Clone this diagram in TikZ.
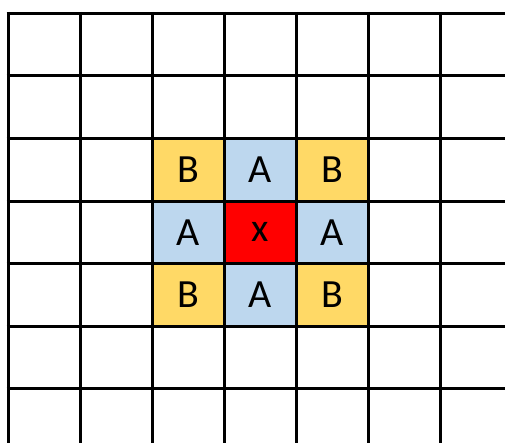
\documentclass[tikz,border=0pt]{standalone}
\usepackage{fontspec}
\setmainfont{Carlito}
\usetikzlibrary{positioning}
\definecolor{cellB}{HTML}{FFD966}
\definecolor{cellA}{HTML}{BDD7EE}
\definecolor{cellX}{HTML}{FF0000}
\newcommand{\cellfont}{\fontsize{40pt}{44pt}\selectfont}

\begin{document}
\begin{tikzpicture}[
    x=1pt, y=-1pt,
    node distance=0pt and 0pt,
    cell/.style={rectangle, draw=none, inner sep=0pt, outer sep=0pt,
                 minimum width=72pt, minimum height=62.6pt,
                 font=\cellfont},
    gridline/.style={line width=3pt, color=black}
]
\useasboundingbox (0,0) rectangle (505,443);
% centre cell and its neighbours
\node[cell, fill=cellX] (x) at (260,232.4) {x};
\node[cell, fill=cellA, above=of x] (an) {A};
\node[cell, fill=cellA, below=of x] (as) {A};
\node[cell, fill=cellA, left=of x]  (aw) {A};
\node[cell, fill=cellA, right=of x] (ae) {A};
\node[cell, fill=cellB, left=of an]  (bnw) {B};
\node[cell, fill=cellB, right=of an] (bne) {B};
\node[cell, fill=cellB, left=of as]  (bsw) {B};
\node[cell, fill=cellB, right=of as] (bse) {B};
% grid
\foreach \i in {0,...,6}
  \draw[gridline] (8+72*\i, 11.8) -- (8+72*\i, 443);
\foreach \j in {0,...,6}
  \draw[gridline] (6.5, 13.3+62.6*\j) -- (505, 13.3+62.6*\j);
\end{tikzpicture}
\end{document}
